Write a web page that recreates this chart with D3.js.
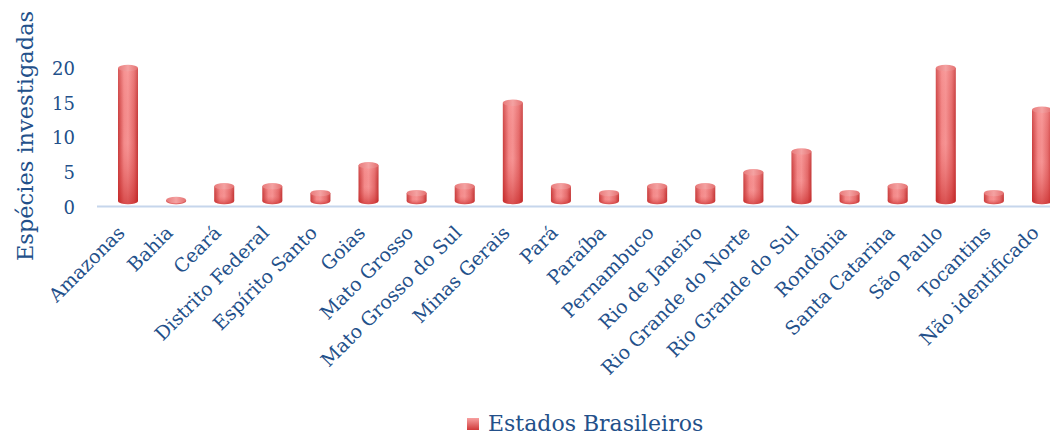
<!DOCTYPE html>
<html>
<head>
<meta charset="utf-8">
<script src="https://cdn.jsdelivr.net/npm/d3@7"></script>
<style>
  html, body { margin: 0; padding: 0; background: #fff; }
  svg { display: block; }
  text { font-family: "DejaVu Serif", "Liberation Serif", serif; fill: #23508a; }
</style>
</head>
<body>
<svg id="chart" width="1050" height="435"></svg>
<script>
// Number of investigated species per Brazilian state
const estados = ["Amazonas", "Bahia", "Ceará", "Distrito Federal", "Espírito Santo", "Goias",
  "Mato Grosso", "Mato Grosso do Sul", "Minas Gerais", "Pará", "Paraíba", "Pernambuco",
  "Rio de Janeiro", "Rio Grande do Norte", "Rio Grande do Sul", "Rondônia", "Santa Catarina",
  "São Paulo", "Tocantins", "Não identificado"];
const especies = [20, 1, 3, 3, 2, 6, 2, 3, 15, 3, 2, 3, 3, 5, 8, 2, 3, 20, 2, 14];
const yTicks = [0, 5, 10, 15, 20];
const serieNome = "Estados Brasileiros";
const eixoY = "Espécies investigadas";

const svg = d3.select("#chart");
const defs = svg.append("defs");

// cylinder shading: horizontal light band, darker bottom
const gH = defs.append("linearGradient").attr("id", "cylH").attr("x1", 0).attr("x2", 1).attr("y1", 0).attr("y2", 0);
[[0, "#c83a3a"], [0.3, "#f48a8a"], [0.5, "#f69494"], [0.8, "#e46a6a"], [1, "#c23434"]]
  .forEach(([o, c]) => gH.append("stop").attr("offset", o).attr("stop-color", c));
const gV = defs.append("linearGradient").attr("id", "cylV").attr("x1", 0).attr("x2", 0).attr("y1", 0).attr("y2", 1);
[[0, "#ffb0b0", 0.25], [0.55, "#e05050", 0.0], [1, "#c01818", 0.55]]
  .forEach(([o, c, a]) => gV.append("stop").attr("offset", o).attr("stop-color", c).attr("stop-opacity", a));
const gTop = defs.append("linearGradient").attr("id", "cylTop").attr("x1", 0).attr("x2", 1).attr("y1", 0).attr("y2", 0);
[[0, "#e87a7a"], [0.5, "#f4a2a2"], [1, "#e47070"]]
  .forEach(([o, c]) => gTop.append("stop").attr("offset", o).attr("stop-color", c));
const gLeg = defs.append("linearGradient").attr("id", "legGrad").attr("x1", 0).attr("x2", 0).attr("y1", 0).attr("y2", 1);
[[0, "#f7a0a0"], [1, "#d03a3a"]]
  .forEach(([o, c]) => gLeg.append("stop").attr("offset", o).attr("stop-color", c));

const x = d3.scalePoint().domain(estados).range([128, 1042]);
const y = d3.scaleLinear().domain([0, 20]).range([207, 68]);

const barW = 20, ry = 3.2, floorShift = 6;

// y axis tick labels
const yAxis = svg.append("g").attr("transform", "translate(79,0)")
  .call(d3.axisLeft(y).tickValues(yTicks).tickSize(0).tickPadding(4));
yAxis.select(".domain").remove();
yAxis.selectAll("text").attr("font-size", 18).attr("fill", "#23508a")
  .attr("font-family", "DejaVu Serif, serif").attr("dy", "0.35em");

// floor line
svg.append("line").attr("x1", 97).attr("x2", 1050).attr("y1", 206.5).attr("y2", 206.5)
  .attr("stroke", "#c6d6ec").attr("stroke-width", 2);

// cylinders
const bars = svg.append("g").selectAll("g").data(estados).join("g");
bars.each(function (d, i) {
  const g = d3.select(this);
  const cx = x(d), x0 = cx - barW / 2, x1 = cx + barW / 2;
  const yb = y(0) - floorShift;
  const yt = Math.min(y(especies[i]), yb);
  const body = `M${x0},${yt} L${x0},${yb} A${barW / 2},${ry} 0 0 0 ${x1},${yb} L${x1},${yt} Z`;
  g.append("path").attr("d", body).attr("fill", "url(#cylH)");
  g.append("path").attr("d", body).attr("fill", "url(#cylV)");
  g.append("ellipse").attr("cx", cx).attr("cy", yt).attr("rx", barW / 2).attr("ry", ry)
    .attr("fill", "url(#cylTop)");
});

// category labels, rotated
const xLab = svg.append("g");
xLab.selectAll("text").data(estados).join("text")
  .attr("transform", d => `translate(${x(d) - 2},${234}) rotate(-45)`)
  .attr("text-anchor", "end")
  .attr("font-size", 19)
  .text(d => d);

// y axis title
svg.append("text")
  .attr("transform", "translate(33,136) rotate(-90)")
  .attr("text-anchor", "middle")
  .attr("font-size", 22.5)
  .text(eixoY);

// legend
svg.append("rect").attr("x", 467).attr("y", 418).attr("width", 12).attr("height", 12)
  .attr("fill", "url(#legGrad)");
svg.append("text").attr("x", 488).attr("y", 431).attr("font-size", 22).text(serieNome);
</script>
</body>
</html>
